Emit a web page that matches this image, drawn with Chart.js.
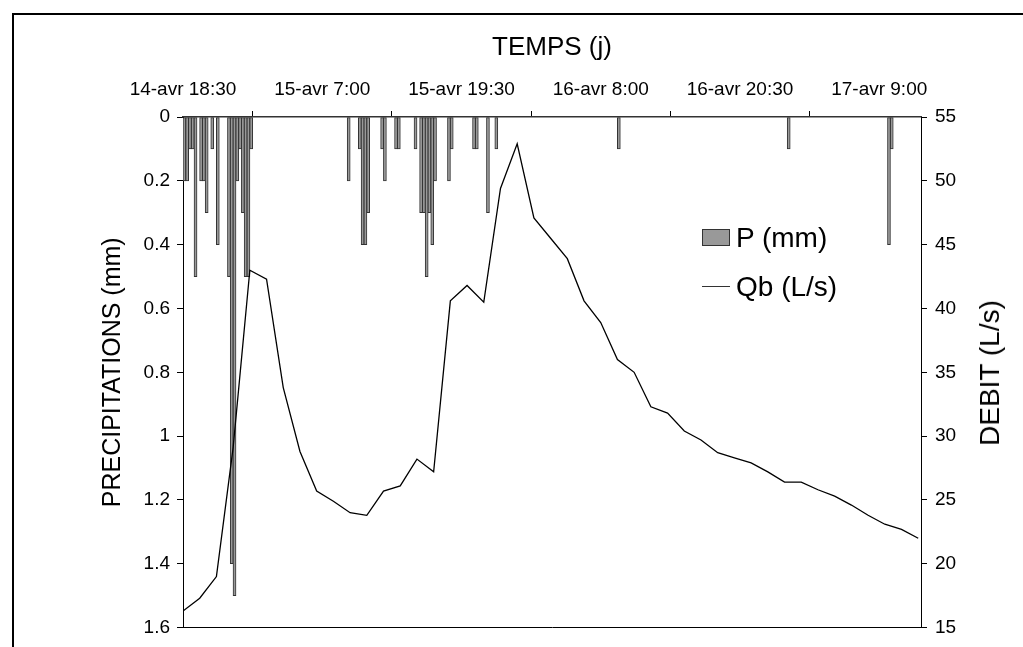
<!DOCTYPE html>
<html>
<head>
<meta charset="utf-8">
<script src="https://cdn.jsdelivr.net/npm/chart.js@4.4.1/dist/chart.umd.min.js"></script>
<style>
  html, body { margin: 0; padding: 0; background: #fff; overflow: hidden; }
  #wrap { position: relative; width: 1023px; height: 647px; }
  #frame { position: absolute; left: 12px; top: 13px; width: 1020px; height: 700px; border: 2px solid #000; box-sizing: border-box; }
  #chart { position: absolute; left: 0; top: 0; }
  .leg { position: absolute; font-family: 'Liberation Sans', Arial, sans-serif; font-size: 28px; color: #000; line-height: 1; }
  .leg .box { position: absolute; width: 26px; height: 15px; background: #999; border: 1px solid #333; }
  .leg .line { position: absolute; width: 28px; height: 0; border-top: 1.5px solid #333; }
  .leg span { position: absolute; white-space: nowrap; }
  #y2title { position: absolute; left: 990px; top: 373px; transform: translate(-50%, -50%) rotate(-90deg);
             font-family: 'Liberation Sans', Arial, sans-serif; font-size: 28px; white-space: nowrap; color: #000; }
</style>
</head>
<body>
<div id="wrap">
  <div id="frame"></div>
  <canvas id="chart" width="1023" height="647"></canvas>
  <div class="leg" style="left:702px; top:226px;">
    <div class="box" style="left:0; top:3px;"></div>
    <span style="left:34px; top:-2px;">P (mm)</span>
  </div>
  <div class="leg" style="left:702px; top:276px;">
    <div class="line" style="left:0; top:10px;"></div>
    <span style="left:34px; top:-3px;">Qb (L/s)</span>
  </div>
  <div id="y2title">DEBIT (L/s)</div>
</div>
<script>
// time axis: hours since 14-avr 18:30
const xTickHours  = [0, 12.5, 25, 37.5, 50, 62.5];
const xTickLabels = ['14-avr 18:30', '15-avr 7:00', '15-avr 19:30', '16-avr 8:00', '16-avr 20:30', '17-avr 9:00'];
const xMaxHours   = 66.25;

// rainfall, one slot = 15 min
const pSlot = [0, 1, 2, 3, 4, 6, 7, 8, 10, 12, 16, 17, 18, 19, 20, 21, 22, 23, 24,
               59, 63, 64, 65, 66, 71, 72, 76, 77, 83,
               85, 86, 87, 88, 89, 90, 95, 96, 104, 105, 109, 112,
               156, 217, 253, 254];
const pMm   = [0.2, 0.2, 0.1, 0.1, 0.5, 0.2, 0.2, 0.3, 0.1, 0.4, 0.5, 1.4, 1.5, 0.2, 0.1, 0.3, 0.5, 0.5, 0.1,
               0.2, 0.1, 0.4, 0.4, 0.3, 0.1, 0.2, 0.1, 0.1, 0.1,
               0.3, 0.3, 0.5, 0.3, 0.4, 0.2, 0.2, 0.1, 0.1, 0.1, 0.3, 0.1,
               0.1, 0.1, 0.4, 0.1];

// discharge, every 1.5 h
const qbHour = [0, 1.5, 3, 4.5, 6, 7.5, 9, 10.5, 12, 13.5, 15, 16.5, 18, 19.5, 21, 22.5,
                24, 25.5, 27, 28.5, 30, 31.5, 33, 34.5, 36, 37.5, 39, 40.5, 42, 43.5,
                45, 46.5, 48, 49.5, 51, 52.5, 54, 55.5, 57, 58.5, 60, 61.5, 63, 64.5, 66];
const qbLs   = [16.3, 17.3, 19.0, 29.1, 43.0, 42.3, 33.8, 28.8, 25.7, 24.9, 24.0, 23.8, 25.7, 26.1, 28.2, 27.2,
                40.6, 41.8, 40.5, 49.4, 52.9, 47.1, 45.5, 43.9, 40.6, 38.9, 36.0, 35.0, 32.3, 31.8,
                30.4, 29.7, 28.7, 28.3, 27.9, 27.2, 26.4, 26.4, 25.8, 25.3, 24.6, 23.8, 23.1, 22.7, 22.0];

const FONT = 'Liberation Sans';

const pPoints  = pSlot.map((s, i) => ({ x: s * 0.25 + 0.125, y: pMm[i] }));
const qbPoints = qbHour.map((h, i) => ({ x: h, y: qbLs[i] }));

const ctx = document.getElementById('chart').getContext('2d');
new Chart(ctx, {
  type: 'bar',
  data: {
    datasets: [
      {
        type: 'line',
        label: 'Qb (L/s)',
        data: qbPoints,
        yAxisID: 'y2',
        borderColor: '#000',
        borderWidth: 1.3,
        pointRadius: 0,
        tension: 0,
        order: 0
      },
      {
        type: 'bar',
        label: 'P (mm)',
        data: pPoints,
        yAxisID: 'y',
        backgroundColor: '#999',
        borderColor: '#333',
        borderWidth: 1,
        borderSkipped: false,
        barThickness: 3,
        grouped: false,
        order: 1
      }
    ]
  },
  options: {
    responsive: false,
    animation: false,
    devicePixelRatio: 1,
    layout: { padding: { left: 0, right: 0, top: 0, bottom: 17 } },
    plugins: { legend: { display: false }, tooltip: { enabled: false } },
    scales: {
      x: {
        type: 'linear',
        position: 'top',
        min: 0,
        max: xMaxHours,
        offset: false,
        afterBuildTicks: s => { s.ticks = xTickHours.map(v => ({ value: v })); },
        afterFit: s => { s.height = 117; },
        ticks: {
          color: '#000',
          font: { family: FONT, size: 19 },
          padding: 10,
          maxRotation: 0,
          autoSkip: false,
          callback: v => xTickLabels[xTickHours.indexOf(v)]
        },
        grid: { drawOnChartArea: false, drawTicks: true, tickLength: 6, color: '#000' },
        border: { display: true, color: '#333', width: 1.5 },
        title: {
          display: true,
          text: 'TEMPS (j)',
          color: '#000',
          font: { family: FONT, size: 26 },
          padding: { top: 32, bottom: 0 }
        }
      },
      xb: {
        type: 'linear',
        position: 'bottom',
        min: 0,
        max: xMaxHours,
        afterFit: s => { s.height = 0; },
        ticks: { display: false },
        grid: { display: false, drawTicks: false },
        border: { display: true, color: '#000', width: 1 }
      },
      y: {
        type: 'linear',
        position: 'left',
        reverse: true,
        min: 0,
        max: 1.6,
        afterFit: s => { s.width = 183; },
        ticks: {
          stepSize: 0.2, color: '#000', font: { family: FONT, size: 19 }, padding: 7,
          callback: v => String(+v.toFixed(1))
        },
        grid: { drawOnChartArea: false, drawTicks: true, tickLength: 6, color: '#000' },
        border: { display: true, color: '#000', width: 1 },
        title: {
          display: true,
          text: 'PRECIPITATIONS (mm)',
          color: '#000',
          font: { family: FONT, size: 25 },
          padding: { top: 98, bottom: 0 }
        }
      },
      y2: {
        type: 'linear',
        position: 'right',
        min: 15,
        max: 55,
        afterFit: s => { s.width = 102; },
        ticks: { stepSize: 5, color: '#000', font: { family: FONT, size: 19 }, padding: 8 },
        grid: { drawOnChartArea: false, drawTicks: true, tickLength: 6, color: '#000' },
        border: { display: true, color: '#000', width: 1 }
      }
    }
  }
});
</script>
</body>
</html>
